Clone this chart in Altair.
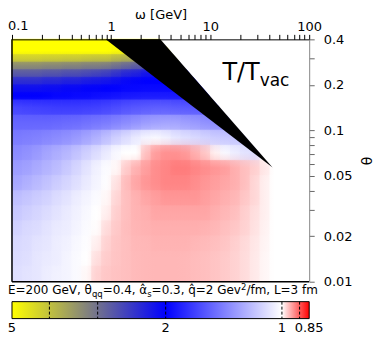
import math
import altair as alt
import pandas as pd

# ---------------- data ----------------
omega_edges = [0.1, 0.1259, 0.1585, 0.1995, 0.2512, 0.3162, 0.3981, 0.5012, 0.631, 0.7943,
               1.0, 1.259, 1.585, 1.995, 2.512, 3.162, 3.981, 5.012, 6.31, 7.943,
               10.0, 12.59, 15.85, 19.95, 25.12, 31.62, 39.81, 50.12, 63.1, 79.43, 100.0]
theta_edges = [0.4, 0.3565, 0.3177, 0.2832, 0.2524, 0.2249, 0.2005, 0.1787, 0.1592,
               0.1265, 0.1005, 0.0798, 0.0634, 0.0504, 0.04, 0.0318, 0.0253, 0.0201,
               0.0159, 0.0127, 0.01]

# T/Tvac, one list per theta band (top to bottom), one value per omega bin
h0 = [5.5]*15 + [1.0]*15
h1 = [5.0]*10 + [4.9, 4.8, 4.8, 4.8, 4.8, 4.8] + [1.0]*14
h2 = [4.2, 4.2, 4.2, 4.15, 4.15, 4.1, 4.1, 4.05, 4.0, 4.0, 3.85, 3.75, 3.7, 3.7, 3.7, 3.7, 3.7] + [1.0]*13
h3 = [3.3, 3.3, 3.3, 3.25, 3.25, 3.2, 3.2, 3.15, 3.15, 3.1, 3.0, 2.9, 2.8, 2.75, 2.75, 2.75, 2.75] + [1.0]*13
h4 = [2.75, 2.75, 2.75, 2.7, 2.7, 2.65, 2.65, 2.6, 2.55, 2.5, 2.4, 2.3, 2.25, 2.15, 2.1, 2.1, 2.1, 2.1] + [1.0]*12
h5 = [2.35, 2.35, 2.35, 2.3, 2.3, 2.25, 2.25, 2.2, 2.18, 2.15, 2.1, 2.05, 2.02, 2.0, 2.0, 2.0, 2.0, 2.0, 2.0] + [1.0]*11
h6 = [2.1, 2.1, 2.1, 2.08, 2.08, 2.05, 2.05, 2.02, 2.02, 2.0, 1.99, 1.97, 1.96, 1.95, 1.95, 1.95, 1.95, 1.95, 1.95, 1.95] + [1.0]*10
h7 = [2.0, 2.0, 2.0, 1.99, 1.97, 1.97, 1.95, 1.95, 1.93, 1.92, 1.9, 1.88, 1.87, 1.86, 1.86, 1.86, 1.87, 1.88, 1.88, 1.88] + [1.0]*10
c4 = [1.66, 1.67, 1.68, 1.69, 1.7, 1.7, 1.7, 1.69, 1.68, 1.66, 1.63, 1.6, 1.58, 1.56, 1.55, 1.55, 1.56, 1.57, 1.58, 1.58, 1.58] + [1.0]*9
c5 = [1.52, 1.52, 1.52, 1.52, 1.51, 1.5, 1.49, 1.47, 1.45, 1.43, 1.4, 1.37, 1.34, 1.31, 1.29, 1.28, 1.28, 1.3, 1.32, 1.35, 1.37, 1.38] + [1.0]*8
c6 = [1.43, 1.42, 1.41, 1.39, 1.37, 1.35, 1.32, 1.28, 1.24, 1.19, 1.14, 1.1, 1.06, 1.03, 1.02, 1.04, 1.07, 1.09, 1.11, 1.13, 1.15, 1.16, 1.17, 1.17] + [1.0]*6
c7 = [1.37, 1.35, 1.32, 1.28, 1.25, 1.22, 1.18, 1.14, 1.1, 1.06, 1.02, 1.0, 1.0, 0.962, 0.94, 0.932, 0.932, 0.937, 0.95, 0.965, 0.99, 1.02, 1.05, 1.08, 1.1] + [1.0]*5
c8 = [1.31, 1.29, 1.26, 1.23, 1.2, 1.16, 1.12, 1.08, 1.04, 1.01, 0.995, 0.968, 0.952, 0.94, 0.93, 0.925, 0.92, 0.92, 0.925, 0.93, 0.935, 0.94, 0.95, 0.96, 0.97, 0.985, 1.0, 1.0, 1.0, 1.0]
c9 = [1.27, 1.24, 1.21, 1.18, 1.15, 1.12, 1.09, 1.06, 1.03, 1.005, 0.982, 0.958, 0.945, 0.935, 0.93, 0.925, 0.925, 0.925, 0.93, 0.935, 0.94, 0.945, 0.95, 0.96, 0.975, 0.99, 1.0, 1.0, 1.0, 1.0]
c10 = [1.19, 1.17, 1.15, 1.13, 1.1, 1.08, 1.05, 1.03, 1.01, 0.995, 0.974, 0.96, 0.952, 0.945, 0.94, 0.935, 0.935, 0.935, 0.935, 0.94, 0.945, 0.95, 0.955, 0.965, 0.975, 0.99, 1.0, 1.0, 1.0, 1.0]
c11 = [1.16, 1.14, 1.12, 1.1, 1.08, 1.06, 1.04, 1.02, 1.0, 0.99, 0.97, 0.96, 0.953, 0.95, 0.945, 0.945, 0.945, 0.945, 0.945, 0.945, 0.95, 0.955, 0.96, 0.97, 0.98, 0.99, 1.0, 1.0, 1.0, 1.0]
c12 = [1.13, 1.11, 1.1, 1.08, 1.06, 1.05, 1.03, 1.01, 0.998, 0.978, 0.966, 0.959, 0.954, 0.952, 0.95, 0.95, 0.95, 0.95, 0.95, 0.952, 0.955, 0.96, 0.965, 0.972, 0.982, 0.992, 1.0, 1.0, 1.0, 1.0]
c13 = [1.11, 1.1, 1.08, 1.07, 1.05, 1.04, 1.02, 1.005, 0.99, 0.972, 0.964, 0.96, 0.956, 0.955, 0.953, 0.953, 0.953, 0.953, 0.955, 0.957, 0.96, 0.964, 0.97, 0.977, 0.985, 0.993, 1.0, 1.0, 1.0, 1.0]
c14 = [1.1, 1.09, 1.07, 1.06, 1.05, 1.03, 1.015, 1.0, 0.98, 0.968, 0.963, 0.96, 0.957, 0.956, 0.955, 0.955, 0.955, 0.956, 0.958, 0.96, 0.963, 0.967, 0.972, 0.978, 0.986, 0.994, 1.0, 1.0, 1.0, 1.0]
c15 = [1.09, 1.08, 1.07, 1.05, 1.04, 1.03, 1.015, 0.995, 0.972, 0.965, 0.962, 0.96, 0.957, 0.956, 0.955, 0.955, 0.955, 0.956, 0.958, 0.96, 0.963, 0.967, 0.972, 0.978, 0.986, 0.994, 1.0, 1.0, 1.0, 1.0]
rows = [h0, h1, h2, h3, h4, h5, h6, h7, c4, c5, c6, c7, c8, c9, c10, c11, c12, c13, c14, c15]

# excluded (black) region and the blank (white) region beyond it
black_omega = [0.883, 3.14, 42.7]
black_theta_low = [0.4, 0.211, 0.0569]
black_theta_high = [0.4, 0.4, 0.0569]
blank_omega = [3.14, 42.7, 100]
blank_theta_low = [0.4, 0.0569, 0.0569]
blank_theta_high = [0.4, 0.4, 0.4]

x_ticks = [0.1, 0.2, 0.3, 0.4, 0.5, 0.6, 0.7, 0.8, 0.9, 1, 2, 3, 4, 5, 6, 7, 8, 9,
           10, 20, 30, 40, 50, 60, 70, 80, 90, 100]
x_labels = [1, 10, 100]
x_first_label = "0.1"
y_ticks = [0.01, 0.02, 0.03, 0.04, 0.05, 0.06, 0.07, 0.08, 0.09, 0.1, 0.2, 0.3, 0.4]
y_labels = [0.01, 0.02, 0.05, 0.1, 0.2, 0.4]

ratio_anchors = [5, 2, 1, 0.85]
anchor_colors = ["#ffff00", "#0000ff", "#ffffff", "#ff0000"]
cbar_ticks = [4, 3, 2, 1, 0.9]
cbar_labels = [5, 2, 1, 0.85]

# ---------------- build tables ----------------
NR, NC = len(rows), len(omega_edges) - 1
recs = []
for i, row in enumerate(rows):
    for k, v in enumerate(row):
        recs.append({"w_lo": omega_edges[k], "w_hi": omega_edges[k + 1],
                     "t_hi": theta_edges[i], "t_lo": theta_edges[i + 1], "ratio": v})
cells = pd.DataFrame(recs)

# shading pieces between neighbouring cell centres (colour blending is done by the renderer)
w_mid = [math.sqrt(omega_edges[k] * omega_edges[k + 1]) for k in range(NC)]
t_mid = [math.sqrt(theta_edges[i] * theta_edges[i + 1]) for i in range(NR)]
hrecs = []
for i, row in enumerate(rows):
    xp = [omega_edges[0]] + w_mid + [omega_edges[-1]]
    vv = [row[0]] + row + [row[-1]]
    for j in range(len(xp) - 1):
        hrecs.append({"w_lo": xp[j], "w_hi": xp[j + 1], "t_hi": theta_edges[i],
                      "t_lo": theta_edges[i + 1], "v0": vv[j], "v1": vv[j + 1]})
hshade = pd.DataFrame(hrecs)
vrecs = []
for k in range(NC):
    yp = [theta_edges[0]] + t_mid + [theta_edges[-1]]
    col = [r[k] for r in rows]
    vv = [col[0]] + col + [col[-1]]
    for j in range(len(yp) - 1):
        vrecs.append({"w_lo": omega_edges[k], "w_hi": omega_edges[k + 1], "t_hi": yp[j],
                      "t_lo": yp[j + 1], "v0": vv[j], "v1": vv[j + 1]})
vshade = pd.DataFrame(vrecs)

excl = pd.DataFrame({"w": black_omega, "lo": black_theta_low, "hi": black_theta_high})
blank = pd.DataFrame({"w": blank_omega, "lo": blank_theta_low, "hi": blank_theta_high})
one = pd.DataFrame({"a": [0]})

W, H = 298, 243
FONT = "DejaVu Sans"

xs = alt.Scale(type="log", domain=[0.1, 100], nice=False)
ys = alt.Scale(type="log", domain=[0.01, 0.4], nice=False)
cscale = alt.Scale(type="log", domain=ratio_anchors, range=anchor_colors, clamp=True, interpolate="rgb")
cbx = alt.Scale(type="log", domain=[ratio_anchors[0], ratio_anchors[-1]], nice=False)


def label_expr(vals):
    return "indexof([" + ",".join(str(v) for v in vals) + "], datum.value) >= 0 ? datum.label : ''"


heat = alt.Chart(cells).mark_rect(strokeWidth=0.6).encode(
    x=alt.X("w_lo:Q", scale=xs, axis=alt.Axis(
        orient="top", title="ω [GeV]", values=x_ticks, labelExpr=label_expr(x_labels),
        format="~g", tickSize=5, tickColor="#000", domainColor="#000", labelColor="#000",
        labelFontSize=13, titleFontSize=13, titleFontWeight="normal", labelPadding=1,
        titleY=-21, titleBaseline="alphabetic", titleColor="#000",
        grid=False, zindex=1, labelFlush=False, labelOverlap=False)),
    x2="w_hi:Q",
    y=alt.Y("t_lo:Q", scale=ys, axis=alt.Axis(
        orient="right", title="θ", values=y_ticks, labelExpr=label_expr(y_labels),
        format="~g", tickSize=5, tickColor="#666", domainColor="#888", labelColor="#000",
        labelFontSize=13, titleFontSize=14, titleFontWeight="normal", labelPadding=9,
        titlePadding=6, titleColor="#000", grid=False, zindex=1, labelFlush=False,
        labelOverlap=False)),
    y2="t_hi:Q",
    fill=alt.Fill("ratio:Q", scale=cscale, legend=None),
    stroke=alt.Stroke("ratio:Q", scale=cscale, legend=None),
)


def grad_expr(horizontal):
    x2, y2 = (1, 0) if horizontal else (0, 1)
    return ("{gradient: 'linear', x1: 0, y1: 0, x2: %d, y2: %d, stops: ["
            "{offset: 0, color: scale('fill', datum.v0)}, "
            "{offset: 1, color: scale('fill', datum.v1)}]}" % (x2, y2))


hlayer = alt.Chart(hshade).mark_rect(fill={"expr": grad_expr(True)},
                                     stroke={"expr": grad_expr(True)}, strokeWidth=0.6).encode(
    x=alt.X("w_lo:Q", scale=xs, axis=None), x2="w_hi:Q",
    y=alt.Y("t_lo:Q", scale=ys, axis=None), y2="t_hi:Q",
)
vlayer = alt.Chart(vshade).mark_rect(fill={"expr": grad_expr(False)}, opacity=0.5).encode(
    x=alt.X("w_lo:Q", scale=xs, axis=None), x2="w_hi:Q",
    y=alt.Y("t_lo:Q", scale=ys, axis=None), y2="t_hi:Q",
)

blank_area = alt.Chart(blank).mark_area(color="white", interpolate="linear").encode(
    x=alt.X("w:Q", scale=xs, axis=None),
    y=alt.Y("lo:Q", scale=ys, axis=None),
    y2="hi:Q",
)
tri = alt.Chart(excl).mark_area(color="black", interpolate="linear").encode(
    x=alt.X("w:Q", scale=xs, axis=None),
    y=alt.Y("lo:Q", scale=ys, axis=None),
    y2="hi:Q",
)

# frame (left and bottom)
frame_l = alt.Chart(one).mark_rule(color="black", strokeWidth=1.5).encode(
    x=alt.value(0), y=alt.value(0), y2=alt.value(H))
frame_b = alt.Chart(one).mark_rule(color="black", strokeWidth=1.5).encode(
    x=alt.value(0), x2=alt.value(W), y=alt.value(H))

# colour bar
lmin, lmax = math.log(ratio_anchors[0]), math.log(ratio_anchors[-1])
stops = [alt.GradientStop(color=c, offset=(math.log(v) - lmin) / (lmax - lmin))
         for v, c in zip(ratio_anchors, anchor_colors)]
grad = alt.Gradient(gradient="linear", stops=stops, x1=0, x2=1, y1=0, y2=0)
cbar = alt.Chart(one).mark_rect(fill=grad, stroke="black", strokeWidth=1).encode(
    x=alt.value(0), x2=alt.value(W), y=alt.value(263), y2=alt.value(280))
cticks = alt.Chart(pd.DataFrame({"v": cbar_ticks})).mark_rule(
    color="black", strokeWidth=1, strokeDash=[3, 2]).encode(
    x=alt.X("v:Q", scale=cbx, axis=None), y=alt.value(263), y2=alt.value(280))
clabels = alt.Chart(pd.DataFrame({"v": cbar_labels})).mark_text(
    fontSize=13, align="center", baseline="middle", font=FONT, color="black").encode(
    x=alt.X("v:Q", scale=cbx, axis=None), y=alt.value(289), text=alt.Text("v:Q", format="~g"))


def txt(s, x, y, size, baseline="alphabetic"):
    return alt.Chart(one).mark_text(text=s, fontSize=size, align="left", baseline=baseline,
                                    font=FONT, color="black").encode(x=alt.value(x), y=alt.value(y))


first_x_label = txt(x_first_label, -4, -6, 13, baseline="bottom")

caption = [
    txt("E=200 GeV, θ", -4, 255.5, 12),
    txt("qq", 80.2, 258.5, 8.5),
    txt("=0.4, α̂", 91, 255.5, 12),
    txt("s", 135.6, 258.5, 8.5),
    txt("=0.3, q̂=2 Gev", 140, 255.5, 12),
    txt("2", 229.7, 251, 8.5),
    txt("/fm, L=3 fm", 235.1, 255.5, 12),
]
label_t = [txt("T/T", 211, 41, 24), txt("vac", 248.4, 47, 17)]

chart = alt.layer(heat, hlayer, vlayer, blank_area, tri, frame_l, frame_b, cbar, cticks, clabels,
                  first_x_label, *caption, *label_t).resolve_scale(
    x="independent", y="independent"
).properties(
    width=W, height=H,
    autosize=alt.AutoSizeParams(type="none"),
    padding={"left": 4, "top": 31, "right": 70, "bottom": 56},
).configure_view(strokeWidth=0).configure_axis(labelFont=FONT, titleFont=FONT)

chart.save("out.html", embed_options={"renderer": "svg", "actions": False})
